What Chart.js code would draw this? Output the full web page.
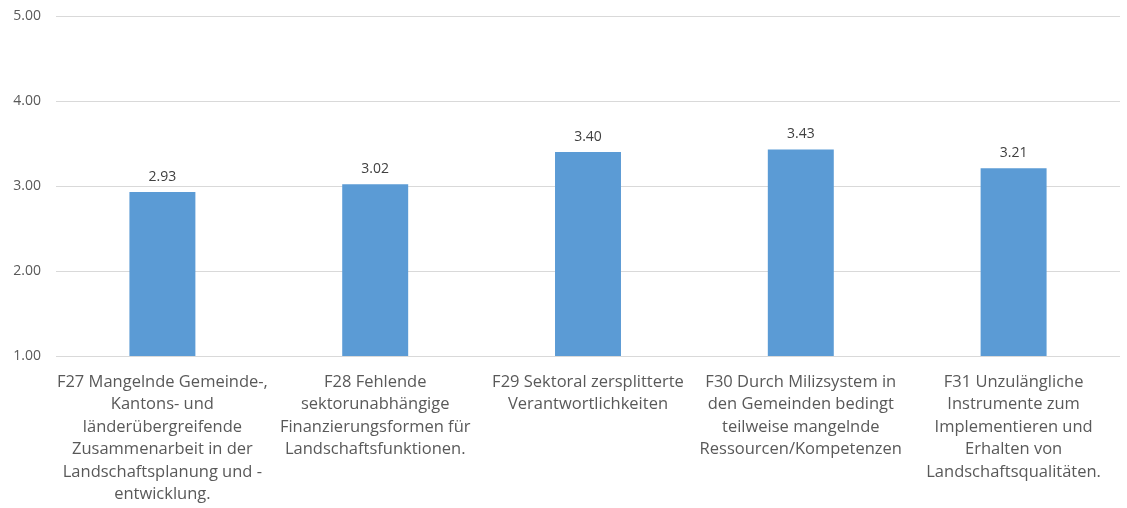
<!DOCTYPE html>
<html><head><meta charset="utf-8">
<script src="https://cdn.jsdelivr.net/npm/chart.js@4"></script>
<style>html,body{margin:0;padding:0;background:#fff}</style>
</head><body>
<canvas id="c" width="1127" height="508"></canvas>
<script>
const categories = [
  ["F27 Mangelnde Gemeinde-,", "Kantons- und", "länderübergreifende", "Zusammenarbeit in der", "Landschaftsplanung und -", "entwicklung."],
  ["F28 Fehlende", "sektorunabhängige", "Finanzierungsformen für", "Landschaftsfunktionen."],
  ["F29 Sektoral zersplitterte", "Verantwortlichkeiten"],
  ["F30 Durch Milizsystem in", "den Gemeinden bedingt", "teilweise mangelnde", "Ressourcen/Kompetenzen"],
  ["F31 Unzulängliche", "Instrumente zum", "Implementieren und", "Erhalten von", "Landschaftsqualitäten."]
];
const values = [2.93, 3.02, 3.40, 3.43, 3.21];
const yTicks = [1, 2, 3, 4, 5];

const FONT = "'Open Sans', 'Liberation Sans', sans-serif";
const labelPlugin = {
  id: 'dl',
  afterDatasetsDraw(chart) {
    const ctx = chart.ctx;
    const meta = chart.getDatasetMeta(0);
    ctx.save();
    ctx.font = "14px " + FONT;
    ctx.fillStyle = '#404040';
    ctx.textAlign = 'center';
    ctx.textBaseline = 'middle';
    meta.data.forEach((el, i) => {
      ctx.fillText(values[i].toFixed(2), el.x, el.y - 15);
    });
    ctx.restore();
  }
};

new Chart(document.getElementById('c'), {
  type: 'bar',
  data: { labels: categories, datasets: [{ data: values, backgroundColor: '#5B9BD5', categoryPercentage: 1, barPercentage: 0.31 }] },
  options: {
    responsive: false, animation: false,
    layout: { padding: { top: 16, right: 7, left: 0, bottom: 0 } },
    plugins: { legend: { display: false }, tooltip: { enabled: false } },
    scales: {
      x: {
        grid: { display: false },
        border: { display: false },
        ticks: { color: '#595959', font: { size: 16.5, family: FONT, lineHeight: 1.36 }, maxRotation: 0, autoSkip: false, padding: 7 },
        afterFit(s) { s.height = 152; s.paddingLeft = 0; s.paddingRight = 0; }
      },
      y: {
        min: 1, max: 5,
        afterBuildTicks(s) { s.ticks = yTicks.map(v => ({ value: v })); },
        grid: { color: '#D9D9D9', drawTicks: false },
        border: { display: false },
        ticks: { color: '#595959', font: { size: 14, family: FONT }, padding: 15, callback: v => Number(v).toFixed(2) },
        afterFit(s) { s.width = 56; s.paddingTop = 0; s.paddingBottom = 0; }
      }
    }
  },
  plugins: [labelPlugin]
});
</script>
</body></html>
